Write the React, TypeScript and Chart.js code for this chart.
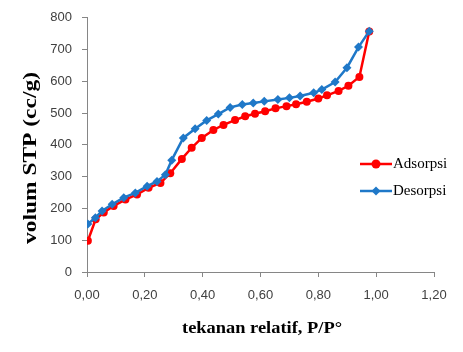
import React, { useEffect, useRef } from "react";
import { Chart, registerables } from "chart.js";

Chart.register(...registerables);

const adsX = [0.003, 0.03, 0.058, 0.092, 0.133, 0.173, 0.213, 0.254, 0.288, 0.328, 0.362, 0.397, 0.437, 0.472, 0.512, 0.547, 0.581, 0.616, 0.652, 0.69, 0.723, 0.76, 0.8, 0.83, 0.87, 0.904, 0.942, 0.976];
const adsY = [98, 166, 187, 208, 228, 244, 265, 280, 311, 356, 391, 422, 447, 463, 478, 490, 498, 506, 515, 522, 528, 536, 546, 556, 570, 586, 614, 757];

const desX = [0.003, 0.029, 0.052, 0.087, 0.127, 0.167, 0.208, 0.242, 0.271, 0.293, 0.333, 0.374, 0.414, 0.454, 0.495, 0.537, 0.575, 0.613, 0.66, 0.7, 0.737, 0.784, 0.812, 0.858, 0.899, 0.939, 0.976];
const desY = [151, 171, 192, 213, 234, 249, 270, 285, 306, 352, 422, 451, 477, 497, 518, 527, 532, 537, 543, 548, 554, 564, 574, 598, 643, 708, 758];

const seriesNames = ["Adsorpsi", "Desorpsi"];
const xTitle = "tekanan relatif, P/P°";
const yTitle = "volum STP (cc/g)";

const RED = "#ff0000";
const BLUE = "#1f78c8";

const overlay = {
  id: "overlay",
  afterDraw(chart: any) {
    const ctx = chart.ctx;
    ctx.save();
    // legend
    const items = [
      { name: seriesNames[0], color: RED, y: 164, style: "circle" },
      { name: seriesNames[1], color: BLUE, y: 191, style: "diamond" },
    ];
    for (const it of items) {
      ctx.strokeStyle = it.color;
      ctx.lineWidth = 2.5;
      ctx.beginPath();
      ctx.moveTo(360, it.y);
      ctx.lineTo(392, it.y);
      ctx.stroke();
      ctx.fillStyle = it.color;
      ctx.beginPath();
      if (it.style === "circle") {
        ctx.arc(376, it.y, 4.5, 0, Math.PI * 2);
      } else {
        ctx.moveTo(376, it.y - 4.5);
        ctx.lineTo(380.5, it.y);
        ctx.lineTo(376, it.y + 4.5);
        ctx.lineTo(371.5, it.y);
        ctx.closePath();
      }
      ctx.fill();
      ctx.fillStyle = "#000";
      ctx.font = "15px 'Liberation Serif', serif";
      ctx.textAlign = "left";
      ctx.textBaseline = "middle";
      ctx.fillText(it.name, 393, it.y);
    }
    // x title
    ctx.font = "bold 17px 'Liberation Serif', serif";
    ctx.fillStyle = "#000";
    ctx.textAlign = "center";
    ctx.textBaseline = "middle";
    let w = ctx.measureText(xTitle).width;
    ctx.save();
    ctx.translate(262, 329);
    ctx.scale(160 / w, 1);
    ctx.fillText(xTitle, 0, 0);
    ctx.restore();
    // y title
    ctx.font = "bold 18px 'Liberation Serif', serif";
    w = ctx.measureText(yTitle).width;
    ctx.save();
    ctx.translate(31, 158);
    ctx.rotate(-Math.PI / 2);
    ctx.scale(172 / w, 1);
    ctx.fillText(yTitle, 0, 0);
    ctx.restore();
    ctx.restore();
  },
};

export default function App() {
  const ref = useRef<HTMLCanvasElement>(null);
  useEffect(() => {
    const canvas = ref.current!;
    const chart = new Chart(canvas, {
      type: "scatter",
      data: {
        datasets: [
          {
            label: seriesNames[0],
            data: adsX.map((x, i) => ({ x, y: adsY[i] })),
            showLine: true,
            borderColor: RED,
            backgroundColor: RED,
            borderWidth: 2.5,
            pointStyle: "circle",
            pointRadius: 4,
            pointBorderWidth: 0,
            tension: 0,
            order: 1,
          },
          {
            label: seriesNames[1],
            data: desX.map((x, i) => ({ x, y: desY[i] })),
            showLine: true,
            borderColor: BLUE,
            backgroundColor: BLUE,
            borderWidth: 2.5,
            pointStyle: "rectRot",
            pointRadius: 4.5,
            pointBorderWidth: 0,
            tension: 0,
            order: 0,
          },
        ],
      },
      options: {
        animation: false,
        responsive: false,
        maintainAspectRatio: false,
        layout: { padding: { left: 0, top: 14, right: 29, bottom: 0 } },
        plugins: { legend: { display: false }, tooltip: { enabled: false } },
        scales: {
          x: {
            type: "linear",
            min: 0,
            max: 1.2,
            afterFit: (s: any) => {
              s.height = 80;
            },
            ticks: {
              stepSize: 0.2,
              padding: 11,
              color: "#404040",
              font: { family: "'Liberation Sans', sans-serif", size: 13 },
              maxRotation: 0,
              callback: (v: any) => Number(v).toFixed(2).replace(".", ","),
            },
            grid: { drawOnChartArea: false, drawTicks: true, tickLength: 5, color: "#868686" },
            border: { color: "#868686", width: 1 },
          },
          y: {
            min: 0,
            max: 800,
            afterFit: (s: any) => {
              s.width = 87;
            },
            ticks: {
              stepSize: 100,
              padding: 10,
              color: "#404040",
              font: { family: "'Liberation Sans', sans-serif", size: 13 },
            },
            grid: { drawOnChartArea: false, drawTicks: true, tickLength: 5, color: "#868686" },
            border: { color: "#868686", width: 1 },
          },
        },
      },
      plugins: [overlay],
    });
    return () => chart.destroy();
  }, []);
  return (
    <div style={{ position: "fixed", left: 0, top: 0, width: 463, height: 352, background: "#fff" }}>
      <canvas ref={ref} width={463} height={352} style={{ display: "block" }} />
    </div>
  );
}
